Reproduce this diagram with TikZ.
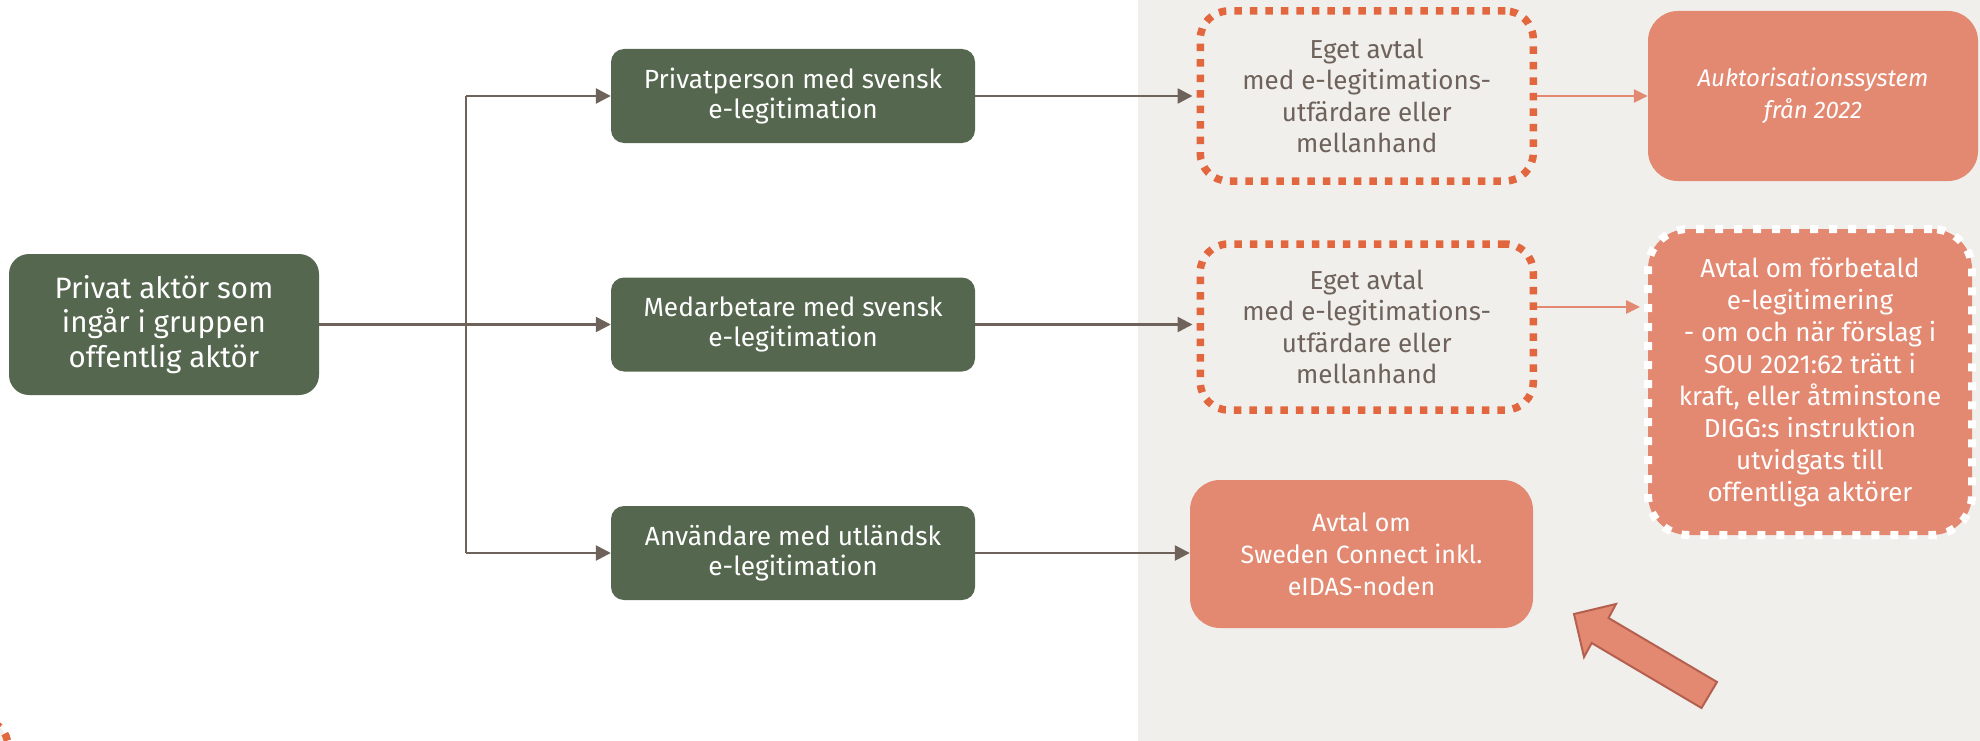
\documentclass[tikz,border=0pt]{standalone}
\usepackage{fontspec}
\setmainfont{Fira Sans}
\usetikzlibrary{arrows.meta,calc}
\definecolor{bggray}{HTML}{F0EFEC}
\definecolor{dgreen}{HTML}{566750}
\definecolor{salmon}{HTML}{E38871}
\definecolor{dotorange}{HTML}{E2673F}
\definecolor{linebrown}{HTML}{6E625B}
\definecolor{arrowedge}{HTML}{B5604F}
\tikzset{
  greenbox/.style={draw=none, fill=dgreen, rounded corners=13pt, text=white, align=center, inner sep=0pt, minimum width=364pt, minimum height=94pt, font=\fontsize{26.3}{30}\selectfont},
  dotbox/.style={draw=dotorange, line width=7.5pt, dash pattern=on 7.5pt off 8pt, rounded corners=28pt, fill=bggray, text=linebrown, align=center, inner sep=0pt, minimum width=333pt, font=\fontsize{26}{31.5}\selectfont},
  salmonbox/.style={draw=none, fill=salmon, rounded corners=30pt, text=white, align=center, inner sep=0pt, font=\fontsize{24}{32}\selectfont},
  conn/.style={draw=linebrown, line width=2.5pt, -{Triangle[length=15pt,width=15pt]}},
  plainconn/.style={draw=linebrown, line width=2.5pt},
  sconn/.style={draw=salmon, line width=2.5pt, -{Triangle[length=14pt,width=13pt]}},
}
\begin{document}
\begin{tikzpicture}[x=1pt,y=-1pt]
\useasboundingbox (0,0) rectangle (1980,741);
\begin{scope}
\clip (0,0) rectangle (1980,741);
\fill[bggray] (1138,0) rectangle (1980,741);
% fragment of a dotted box at bottom left
\draw[dotorange, line width=7.5pt, dash pattern=on 7.5pt off 8pt, fill=bggray, rounded corners=26pt] (-400,720) rectangle (8,1000);

\node[greenbox, minimum width=310pt, minimum height=141pt, rounded corners=20pt, font=\fontsize{29.5}{34.7}\selectfont] (pa) at (164,324.5) {Privat aktör som\\ingår i gruppen\\offentlig aktör};
\node[greenbox] (p1) at (793,96) {Privatperson med svensk\\e-legitimation};
\node[greenbox] (p2) at (793,324.5) {Medarbetare med svensk\\e-legitimation};
\node[greenbox] (p3) at (793,553) {Användare med utländsk\\e-legitimation};

\node[dotbox, minimum height=170pt] (d1) at (1366.75,96) {Eget avtal\\med e-legitimations-\\utfärdare eller\\mellanhand};
\node[dotbox, minimum height=166pt] (d2) at (1366.75,327) {Eget avtal\\med e-legitimations-\\utfärdare eller\\mellanhand};

\node[salmonbox, minimum width=330pt, minimum height=170pt, font=\fontsize{24}{32}\selectfont\itshape] (auk) at (1813,96) {Auktorisationssystem\\från 2022};
\node[salmonbox, draw=white, line width=8pt, dash pattern=on 8pt off 11pt, rounded corners=40pt, minimum width=324pt, minimum height=306pt, font=\fontsize{26}{32}\selectfont] (fb) at (1810,382) {Avtal om förbetald\\e-legitimering\\- om och när förslag i\\SOU 2021:62 trätt i\\kraft, eller åtminstone\\DIGG:s instruktion\\utvidgats till\\offentliga aktörer};
\node[salmonbox, minimum width=343pt, minimum height=148pt, font=\fontsize{25}{32}\selectfont] (sc) at (1361.5,554) {Avtal om\\Sweden Connect inkl.\\eIDAS-noden};

\coordinate (jt) at (466,96);
\coordinate (jb) at (466,553);
\draw[conn] (pa.east) -- (p2.west);
\draw[plainconn] (jt) -- (jb);
\draw[conn] (jt) -- (p1.west);
\draw[conn] (jb) -- (p3.west);

\draw[conn] (p1.east) -- ([xshift=-4pt]p1.east -| d1.west);
\draw[conn] (p2.east) -- ([xshift=-4pt]p2.east -| d2.west);
\draw[conn] (p3.east) -- (p3.east -| sc.west);

\path (d1.east) ++(0,0) coordinate (a1s);
\draw[sconn] (a1s) -- (a1s -| auk.west);
\path (d2.east) ++(0,-20) coordinate (a2s);
\draw[sconn] (a2s) -- ([xshift=-4pt]a2s -| fb.west);

% big block arrow
\draw[fill=salmon, draw=arrowedge, line width=2pt, line join=miter]
  (1574,614) -- (1616,604) -- (1608.5,618) -- (1717,682) -- (1701.5,708) -- (1591.7,643) -- (1584,657) -- cycle;
\end{scope}
\end{tikzpicture}
\end{document}
